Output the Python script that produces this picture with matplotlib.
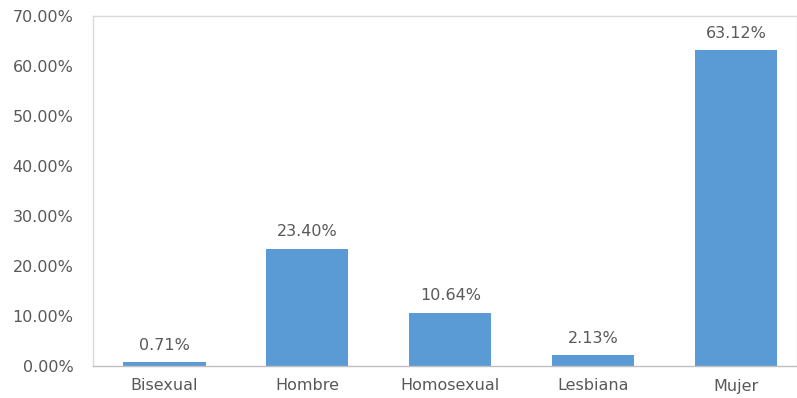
import matplotlib
matplotlib.use("Agg")
import matplotlib.pyplot as plt
from matplotlib.ticker import FuncFormatter

categories = ["Bisexual", "Hombre", "Homosexual", "Lesbiana", "Mujer"]
percentages = [0.71, 23.40, 10.64, 2.13, 63.12]
y_ticks = [0, 10, 20, 30, 40, 50, 60, 70]

bar_color = "#5B9BD5"
text_color = "#595959"
frame_color = "#D9D9D9"

plt.rcParams["font.family"] = ["DejaVu Sans"]

fig = plt.figure(figsize=(7.97, 3.98), dpi=100)
ax = fig.add_axes([93 / 797, 32 / 398, 704 / 797, 350 / 398])

x = list(range(len(categories)))
bars = ax.bar(x, percentages, width=0.575, color=bar_color, zorder=2)

for xi, v in zip(x, percentages):
    ax.annotate(f"{v:.2f}%", (xi, v), xytext=(0, 7), textcoords="offset points",
                ha="center", va="bottom", fontsize=11.5, color=text_color)

ax.set_xlim(-0.5, -0.5 + 704 / 142.9)
ax.set_ylim(0, 70)
ax.set_yticks(y_ticks)
ax.yaxis.set_major_formatter(FuncFormatter(lambda v, _: f"{v:.2f}%"))
ax.set_xticks(x)
ax.set_xticklabels(categories)
ax.tick_params(axis="both", length=0, labelcolor=text_color)
ax.tick_params(axis="x", pad=9, labelsize=11.5)
ax.tick_params(axis="y", pad=14, labelsize=11.5)

for side in ["top", "left", "right"]:
    ax.spines[side].set_color(frame_color)
    ax.spines[side].set_linewidth(1.0)
ax.spines["bottom"].set_color("#BFBFBF")
ax.spines["bottom"].set_linewidth(1.0)

fig.savefig("out.png", dpi=100)
